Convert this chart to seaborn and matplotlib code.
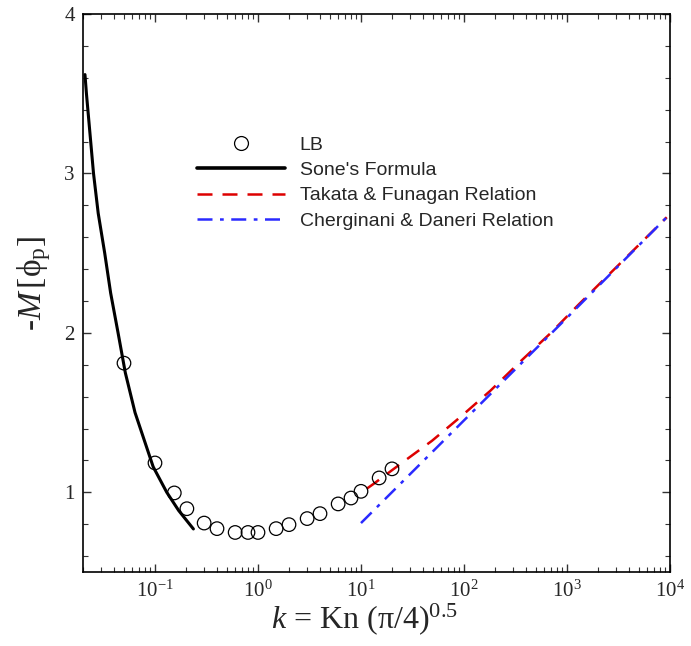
import numpy as np
import pandas as pd
import matplotlib
matplotlib.use("Agg")
import matplotlib.pyplot as plt
import seaborn as sns
from matplotlib.lines import Line2D
from matplotlib.ticker import LogLocator, FixedLocator, NullFormatter

# ---- data ----
lb_k = [0.05, 0.1, 0.154, 0.204, 0.30, 0.40, 0.60, 0.80, 1.0, 1.5, 2.0, 3.0, 4.0, 6.0, 8.0, 10.0, 15.0, 20.0]
lb_m = [1.81, 1.184, 0.996, 0.897, 0.807, 0.772, 0.748, 0.748, 0.748, 0.772, 0.797, 0.835, 0.866, 0.927, 0.964, 1.006, 1.09, 1.147]

sone_k = [0.0209, 0.0216, 0.0253, 0.0281, 0.0325, 0.0371, 0.0438, 0.0515, 0.064, 0.096, 0.13, 0.17, 0.236]
sone_m = [3.62, 3.50, 3.00, 2.75, 2.50, 2.25, 2.00, 1.75, 1.50, 1.16, 1.00, 0.885, 0.77]

takata_k = [11.4, 13.2, 24.9, 48.9, 95.7, 181, 355, 695, 1313, 9300]
takata_m = [1.023, 1.052, 1.184, 1.323, 1.481, 1.638, 1.822, 1.999, 2.181, 2.725]

cherg_k = [10, 100, 1000, 9300]
cherg_m = [0.807, 1.451, 2.095, 2.725]

labels = ["LB", "Sone's Formula", "Takata & Funagan Relation", "Cherginani & Daneri Relation"]

sns.set_style("ticks")
plt.rcParams["font.family"] = ["Liberation Serif", "DejaVu Serif"]
plt.rcParams["mathtext.fontset"] = "custom"
plt.rcParams["mathtext.rm"] = "Liberation Serif"
plt.rcParams["mathtext.it"] = "Liberation Serif:italic"
plt.rcParams["mathtext.bf"] = "Liberation Serif:bold"

fig = plt.figure(figsize=(6.91, 6.46), dpi=100)
ax = fig.add_axes([83/691, 1-572/646, (670-83)/691, (572-14)/646])

df_sone = pd.DataFrame({"k": sone_k, "m": sone_m})
df_tak = pd.DataFrame({"k": takata_k, "m": takata_m})
df_ch = pd.DataFrame({"k": cherg_k, "m": cherg_m})
df_lb = pd.DataFrame({"k": lb_k, "m": lb_m})

sns.lineplot(data=df_sone, x="k", y="m", ax=ax, color="black", lw=2.2, sort=False, estimator=None)
sns.lineplot(data=df_tak, x="k", y="m", ax=ax, color="#dd0000", lw=1.8, sort=False, estimator=None)
ax.lines[-1].set_dashes((6, 4))
sns.lineplot(data=df_ch, x="k", y="m", ax=ax, color="#2a2aff", lw=1.8, sort=False, estimator=None)
ax.lines[-1].set_dashes((6, 3, 1.5, 3))
sns.scatterplot(data=df_lb, x="k", y="m", ax=ax, marker="o", s=95, facecolor="none",
                edgecolor="black", linewidth=0.9, zorder=5)

ax.set_xscale("log")
ax.set_xlim(0.02, 1e4)
ax.set_ylim(0.5, 4)
ax.xaxis.set_major_locator(LogLocator(base=10, numticks=20))
ax.xaxis.set_minor_locator(LogLocator(base=10, subs=np.arange(2, 10), numticks=100))
ax.xaxis.set_minor_formatter(NullFormatter())
ax.yaxis.set_major_locator(FixedLocator([1, 2, 3, 4]))
ax.yaxis.set_minor_locator(FixedLocator(np.arange(0.6, 4.0, 0.2)))

ax.tick_params(which="both", direction="in", top=True, right=True, color="#333333")
ax.tick_params(which="major", length=6, width=1.0, labelsize=15, pad=6)
ax.tick_params(which="minor", length=3.8, width=0.8)
for s in ax.spines.values():
    s.set_linewidth(1.2)
    s.set_color("black")

ax.set_xlabel(r"$k$ = Kn (π/4)$^{0.5}$", fontsize=23)
ax.set_ylabel(r"-$M\,$[$\mathrm{\phi}_{\mathrm{p}}$]", fontsize=24)
ax.xaxis.set_label_coords(0.48, -0.052)
ax.yaxis.set_label_coords(-0.051, 0.517)

handles = [
    Line2D([], [], ls="none", marker="o", markersize=10, markerfacecolor="none",
           markeredgecolor="black", markeredgewidth=0.9),
    Line2D([], [], color="black", lw=2.6),
    Line2D([], [], color="#dd0000", lw=1.8, dashes=(6, 4)),
    Line2D([], [], color="#2a2aff", lw=1.8, dashes=(6, 3, 1.5, 3)),
]
leg = ax.legend(handles, labels, loc="upper left", bbox_to_anchor=(197/691, 1-136/646),
                bbox_transform=fig.transFigure, frameon=False, borderpad=0, borderaxespad=0,
                handlelength=4.5, handletextpad=0.78, labelspacing=0.4, numpoints=1,
                prop={"family": "Liberation Sans", "size": 14})

fig.savefig("out.png", dpi=100)
